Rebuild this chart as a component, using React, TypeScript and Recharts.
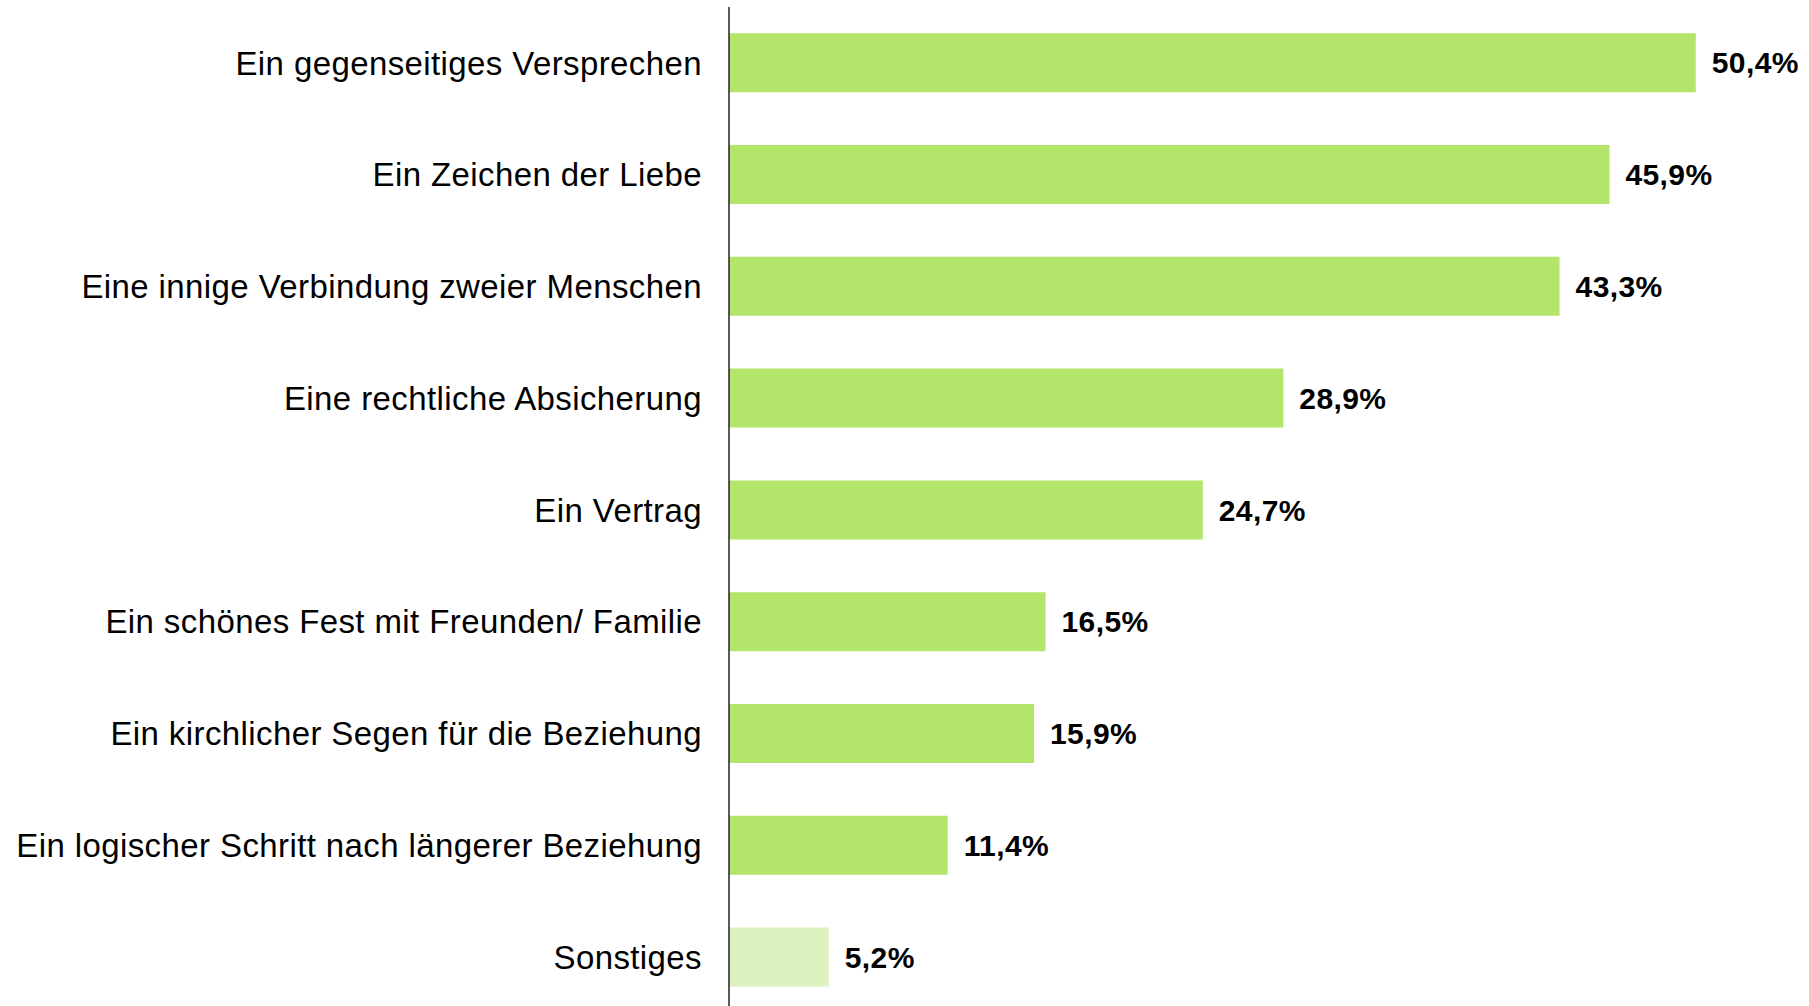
import { BarChart, Bar, XAxis, YAxis, Cell, LabelList } from "recharts";

const categories = [
    "Ein gegenseitiges Versprechen",
    "Ein Zeichen der Liebe",
    "Eine innige Verbindung zweier Menschen",
    "Eine rechtliche Absicherung",
    "Ein Vertrag",
    "Ein schönes Fest mit Freunden/ Familie",
    "Ein kirchlicher Segen für die Beziehung",
    "Ein logischer Schritt nach längerer Beziehung",
    "Sonstiges",
];

const shares = [50.4, 45.9, 43.3, 28.9, 24.7, 16.5, 15.9, 11.4, 5.2];

const barColor = "#b3e56a";
const otherColor = "#dcf3c0";

const data = categories.map((name, i) => ({ name, value: shares[i] }));

const formatPct = (v: any) => `${Number(v).toFixed(1).replace(".", ",")}%`;

const App = () => {
    return (
        <div style={{ position: "absolute", left: 0, top: 0 }}>
            <BarChart
                width={1809}
                height={1020}
                data={data}
                layout="vertical"
                margin={{ top: 7, right: 25, bottom: 7, left: 0 }}
                barCategoryGap="23.5%"
            >
                <XAxis type="number" domain={[0, 55]} hide />
                <YAxis
                    type="category"
                    dataKey="name"
                    width={729}
                    interval={0}
                    tickLine={false}
                    tickSize={0}
                    tickMargin={27}
                    axisLine={{ stroke: "#000", strokeWidth: 1.3 }}
                    tick={{
                        fill: "#000",
                        fontSize: 33,
                        letterSpacing: 0.4,
                        fontFamily: "Liberation Sans, Arial, sans-serif",
                    }}
                />
                <Bar dataKey="value" isAnimationActive={false}>
                    {data.map((d, i) => (
                        <Cell
                            key={d.name}
                            fill={i === data.length - 1 ? otherColor : barColor}
                        />
                    ))}
                    <LabelList
                        dataKey="value"
                        position="right"
                        offset={16}
                        formatter={formatPct}
                        style={{
                            fill: "#000",
                            fontSize: 30,
                            fontWeight: "bold",
                            letterSpacing: 0.4,
                            fontFamily: "Liberation Sans, Arial, sans-serif",
                        }}
                    />
                </Bar>
            </BarChart>
        </div>
    );
};

export default App;
